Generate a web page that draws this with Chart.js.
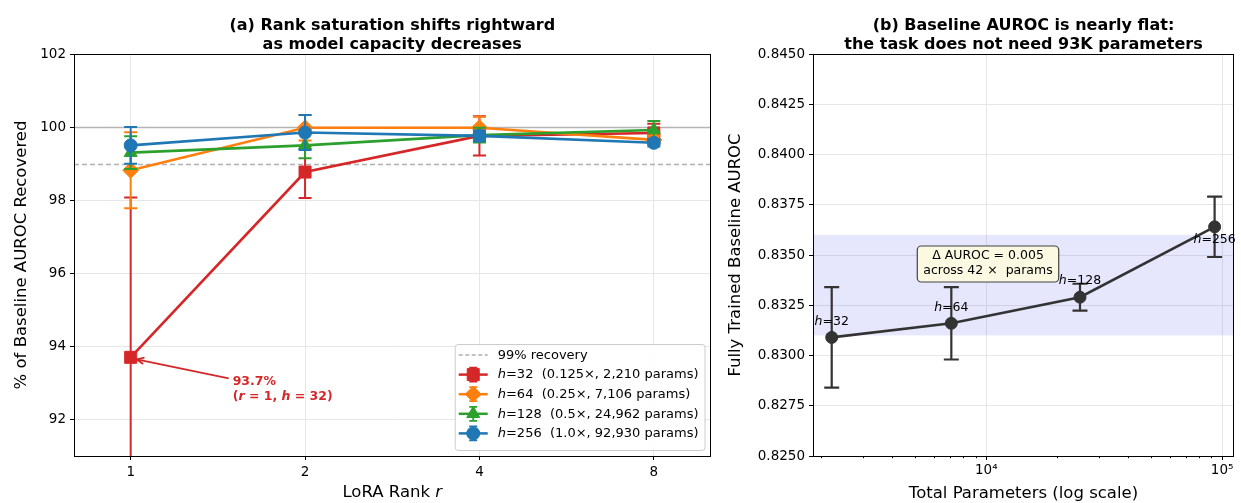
<!DOCTYPE html>
<html>
<head>
<meta charset="utf-8">
<script src="https://cdn.jsdelivr.net/npm/chart.js@4/dist/chart.umd.min.js"></script>
<style>
  html, body { margin: 0; padding: 0; background: #ffffff; }
  #wrap { position: relative; width: 1241px; height: 503px; overflow: hidden; }
  canvas { position: absolute; top: 0; }
  #rankChart { left: 0; width: 720px; height: 503px; }
  #paramChart { left: 720px; width: 521px; height: 503px; }
</style>
</head>
<body>
<div id="wrap">
  <canvas id="rankChart" width="720" height="503"></canvas>
  <canvas id="paramChart" width="521" height="503"></canvas>
</div>
<script>
// ---------- Panel (a): % of baseline AUROC recovered vs LoRA rank ----------
const ranks = [1, 2, 4, 8];
const rankLabels = ['1', '2', '4', '8'];
const recTicks = [92, 94, 96, 98, 100, 102];

const hiddenSizes = [32, 64, 128, 256];
const sizeNotes = ['(0.125×, 2,210 params)', '(0.25×, 7,106 params)', '(0.5×, 24,962 params)', '(1.0×, 92,930 params)'];

const rec32  = [93.7, 98.77, 99.76, 99.84];
const err32  = [4.37, 0.71, 0.54, 0.25];
const rec64  = [98.82, 99.98, 99.98, 99.65];
const err64  = [1.04, 0.35, 0.30, 0.12];
const rec128 = [99.30, 99.50, 99.78, 99.92];
const err128 = [0.45, 0.35, 0.20, 0.25];
const rec256 = [99.50, 99.85, 99.76, 99.57];
const err256 = [0.50, 0.48, 0.15, 0.10];

const fullRecovery = 100;
const recoveryThreshold = 99;

// ---------- Panel (b): fully trained baseline AUROC vs parameter count ----------
const paramCounts = [2210, 7106, 24962, 92930];
const baseAuroc   = [0.8309, 0.8316, 0.8329, 0.8364];
const baseErr     = [0.0025, 0.0018, 0.00067, 0.0015];
const bandLow  = 0.8310;
const bandHigh = 0.8360;
const aurocTicks = [0.8250, 0.8275, 0.8300, 0.8325, 0.8350, 0.8375, 0.8400, 0.8425, 0.8450];
const paramMajor = [1e4, 1e5];
const paramMajorLabels = ['10⁴', '10⁵'];

// ---------- shared styling ----------
const FAMILY = '"DejaVu Sans", "Liberation Sans", sans-serif';
const fnt = (size, weight = 'normal', style = 'normal') => `${style} ${weight} ${size}px ${FAMILY}`;
const GRID = '#e6e6e6';
const TICK_SIZE = 13.5;

// draw a run of text pieces, some of them italic
function drawRich(ctx, parts, x, y, align, size, weight) {
  const widths = parts.map(([t, it]) => { ctx.font = fnt(size, weight, it ? 'italic' : 'normal'); return ctx.measureText(t).width; });
  const total = widths.reduce((a, b) => a + b, 0);
  let cx = align === 'center' ? x - total / 2 : (align === 'right' ? x - total : x);
  ctx.textAlign = 'left';
  parts.forEach(([t, it], i) => {
    ctx.font = fnt(size, weight, it ? 'italic' : 'normal');
    ctx.fillText(t, cx, y);
    cx += widths[i];
  });
  return total;
}

// keep the plot area exactly where the layout puts it
function noEdgePadding(s) {
  s.paddingLeft = 0; s.paddingRight = 0; s.paddingTop = 0; s.paddingBottom = 0;
}

// error bars drawn just before each dataset's own line and markers
const errorBarPlugin = {
  id: 'errorBars',
  beforeDatasetDraw(chart, args) {
    const ds = chart.data.datasets[args.index];
    if (!ds.errors) return;
    const { ctx, chartArea: a } = chart;
    const xs = chart.scales.x, ys = chart.scales.y;
    ctx.save();
    ctx.beginPath();
    ctx.rect(a.left, a.top, a.right - a.left, a.bottom - a.top);
    ctx.clip();
    ctx.strokeStyle = ds.borderColor;
    ctx.lineWidth = ds.errLineWidth;
    ds.data.forEach((p, i) => {
      const px = xs.getPixelForValue(p.x);
      const top = ys.getPixelForValue(p.y + ds.errors[i]);
      const bot = ys.getPixelForValue(p.y - ds.errors[i]);
      const c = ds.capHalf;
      ctx.beginPath();
      ctx.moveTo(px, top); ctx.lineTo(px, bot);
      ctx.moveTo(px - c, top); ctx.lineTo(px + c, top);
      ctx.moveTo(px - c, bot); ctx.lineTo(px + c, bot);
      ctx.stroke();
    });
    ctx.restore();
  }
};

function drawSpines(ctx, a) {
  ctx.save();
  ctx.strokeStyle = '#000';
  ctx.lineWidth = 1;
  ctx.strokeRect(Math.round(a.left) + 0.5, Math.round(a.top) + 0.5, Math.round(a.right - a.left) - 1, Math.round(a.bottom - a.top));
  ctx.restore();
}

function drawTitle(ctx, lines, cx) {
  ctx.save();
  ctx.fillStyle = '#000';
  ctx.textAlign = 'center';
  ctx.textBaseline = 'alphabetic';
  ctx.font = fnt(16, 'bold');
  ctx.fillText(lines[0], cx, 30);
  ctx.fillText(lines[1], cx, 48.5);
  ctx.restore();
}

function drawYLabel(ctx, text, x, cy) {
  ctx.save();
  ctx.fillStyle = '#000';
  ctx.translate(x, cy);
  ctx.rotate(-Math.PI / 2);
  ctx.textAlign = 'center';
  ctx.textBaseline = 'middle';
  ctx.font = fnt(16.5);
  ctx.fillText(text, 0, 0);
  ctx.restore();
}

// ---------- chart (a) ----------
const rankPos = ranks.map(Math.log2);
const seriesA = [rec32, rec64, rec128, rec256];
const errorsA = [err32, err64, err128, err256];
const colorsA = ['#d62728', '#ff7f0e', '#2ca02c', '#1f77b4'];
const markersA = ['rect', 'rectRot', 'triangle', 'circle'];
const radiiA = [8.5, 8, 7.5, 6.5];

const panelAPlugin = {
  id: 'panelA',
  beforeDatasetsDraw(chart) {
    const { ctx, chartArea: a } = chart;
    const ys = chart.scales.y;
    ctx.save();
    const y100 = Math.round(ys.getPixelForValue(fullRecovery)) + 0.5;
    ctx.strokeStyle = '#b5b5b5';
    ctx.lineWidth = 1.3;
    ctx.beginPath(); ctx.moveTo(a.left, y100); ctx.lineTo(a.right, y100); ctx.stroke();
    const y99 = Math.round(ys.getPixelForValue(recoveryThreshold)) + 0.5;
    ctx.strokeStyle = '#b0b0b0';
    ctx.setLineDash([5, 3]);
    ctx.beginPath(); ctx.moveTo(a.left, y99); ctx.lineTo(a.right, y99); ctx.stroke();
    ctx.restore();
  },
  afterDraw(chart) {
    const { ctx, chartArea: a } = chart;
    const xs = chart.scales.x, ys = chart.scales.y;
    drawSpines(ctx, a);
    const cx = (a.left + a.right) / 2;
    drawTitle(ctx, ['(a) Rank saturation shifts rightward', 'as model capacity decreases'], cx);
    drawYLabel(ctx, '% of Baseline AUROC Recovered', 22, (a.top + a.bottom) / 2);
    ctx.save();
    ctx.fillStyle = '#000';
    drawRich(ctx, [['LoRA Rank ', false], ['r', true]], cx, 497, 'center', 16.5, 'normal');
    ctx.restore();

    // callout for the weakest configuration
    const px = xs.getPixelForValue(rankPos[0]);
    const py = ys.getPixelForValue(rec32[0]);
    const tipX = px + 6, tipY = py + 2;
    const tailX = px + 98, tailY = py + 21;
    ctx.save();
    ctx.strokeStyle = colorsA[0];
    ctx.lineWidth = 1.8;
    ctx.beginPath(); ctx.moveTo(tailX, tailY); ctx.lineTo(tipX, tipY); ctx.stroke();
    const ang = Math.atan2(tailY - tipY, tailX - tipX);
    ctx.beginPath();
    ctx.moveTo(tipX + 8 * Math.cos(ang + 0.42), tipY + 8 * Math.sin(ang + 0.42));
    ctx.lineTo(tipX, tipY);
    ctx.lineTo(tipX + 8 * Math.cos(ang - 0.42), tipY + 8 * Math.sin(ang - 0.42));
    ctx.stroke();
    ctx.fillStyle = colorsA[0];
    ctx.textBaseline = 'alphabetic';
    ctx.font = fnt(12.5, 'bold');
    ctx.textAlign = 'left';
    ctx.fillText(rec32[0].toFixed(1) + '%', tailX + 4, py + 28);
    drawRich(ctx, [['(', false], ['r', true], [' = ' + ranks[0] + ', ', false], ['h', true], [' = ' + hiddenSizes[0] + ')', false]],
      tailX + 4, py + 43, 'left', 12.5, 'bold');
    ctx.restore();

    // legend
    ctx.save();
    const fs = 13;
    const rowH = 19.6;
    const entries = [{ dashed: true, text: [['99% recovery', false]] }].concat(
      hiddenSizes.map((h, k) => ({ k, text: [['h', true], ['=' + h + '  ' + sizeNotes[k], false]] })));
    let maxW = 0;
    entries.forEach(e => {
      let w = 0;
      e.text.forEach(([t, it]) => { ctx.font = fnt(fs, 'normal', it ? 'italic' : 'normal'); w += ctx.measureText(t).width; });
      maxW = Math.max(maxW, w);
    });
    const boxW = 4 + 30 + 9 + maxW + 6;
    const boxH = entries.length * rowH + 8;
    const bx = a.right - 6 - boxW, by = a.bottom - 6 - boxH;
    ctx.fillStyle = 'rgba(255,255,255,0.85)';
    ctx.strokeStyle = '#cccccc';
    ctx.lineWidth = 1;
    ctx.beginPath(); ctx.roundRect(bx + 0.5, by + 0.5, boxW, boxH, 3); ctx.fill(); ctx.stroke();
    entries.forEach((e, i) => {
      const ry = by + 11 + i * rowH;
      const hx0 = bx + 4, hx1 = bx + 33, hmx = (hx0 + hx1) / 2;
      if (e.dashed) {
        ctx.strokeStyle = '#b0b0b0'; ctx.lineWidth = 1.3; ctx.setLineDash([4, 2.5]);
        ctx.beginPath(); ctx.moveTo(hx0, ry); ctx.lineTo(hx1, ry); ctx.stroke();
        ctx.setLineDash([]);
      } else {
        const col = colorsA[e.k];
        ctx.strokeStyle = col; ctx.lineWidth = 2.5;
        ctx.beginPath(); ctx.moveTo(hx0, ry); ctx.lineTo(hx1, ry); ctx.stroke();
        ctx.lineWidth = 1.8;
        ctx.beginPath();
        ctx.moveTo(hmx, ry - 7); ctx.lineTo(hmx, ry + 7);
        ctx.moveTo(hmx - 4, ry - 7); ctx.lineTo(hmx + 4, ry - 7);
        ctx.moveTo(hmx - 4, ry + 7); ctx.lineTo(hmx + 4, ry + 7);
        ctx.stroke();
        ctx.fillStyle = col; ctx.strokeStyle = col; ctx.lineWidth = 1;
        Chart.helpers.drawPoint(ctx, { pointStyle: markersA[e.k], rotation: 0, borderWidth: 1, radius: radiiA[e.k] }, hmx, ry);
      }
      ctx.fillStyle = '#000';
      ctx.textBaseline = 'middle';
      drawRich(ctx, e.text, bx + 43, ry + 0.5, 'left', fs, 'normal');
    });
    ctx.restore();
  }
};

new Chart(document.getElementById('rankChart'), {
  type: 'line',
  data: {
    datasets: seriesA.map((vals, k) => ({
      label: 'h=' + hiddenSizes[k],
      data: vals.map((v, i) => ({ x: rankPos[i], y: v })),
      errors: errorsA[k],
      errLineWidth: 2,
      capHalf: 6.5,
      borderColor: colorsA[k],
      backgroundColor: colorsA[k],
      borderWidth: 2.6,
      pointStyle: markersA[k],
      pointRadius: radiiA[k],
      pointBorderWidth: 1,
      pointBackgroundColor: colorsA[k],
      pointBorderColor: colorsA[k],
      tension: 0,
      order: 4 - k
    }))
  },
  options: {
    responsive: false,
    maintainAspectRatio: false,
    animation: false,
    devicePixelRatio: 1,
    events: [],
    layout: { padding: { top: 54, right: 7, left: 0, bottom: 0 } },
    plugins: { legend: { display: false }, title: { display: false }, tooltip: { enabled: false } },
    scales: {
      x: {
        type: 'linear', min: -0.325, max: 3.325,
        afterBuildTicks: s => { s.ticks = rankPos.map(v => ({ value: v })); },
        afterFit: s => { s.height = 47; noEdgePadding(s); },
        ticks: { autoSkip: false, maxRotation: 0, padding: 4, color: '#000', font: { family: FAMILY, size: TICK_SIZE },
          callback: v => rankLabels[rankPos.indexOf(v)] },
        grid: { color: GRID, lineWidth: 1, tickLength: 4, tickColor: '#000', tickWidth: 1 },
        border: { display: false }
      },
      y: {
        type: 'linear', min: 91, max: 102,
        afterBuildTicks: s => { s.ticks = recTicks.map(v => ({ value: v })); },
        afterFit: s => { s.width = 74; noEdgePadding(s); },
        ticks: { padding: 4, color: '#000', font: { family: FAMILY, size: TICK_SIZE }, callback: v => String(v) },
        grid: { color: GRID, lineWidth: 1, tickLength: 4, tickColor: '#000', tickWidth: 1 },
        border: { display: false }
      }
    }
  },
  plugins: [errorBarPlugin, panelAPlugin]
});

// ---------- chart (b) ----------
const paramMinor = [];
for (let d = 1e3; d <= 1e4; d *= 10) {
  for (let m = 2; m <= 9; m++) paramMinor.push(m * d);
}
const paramTickValues = paramMajor.concat(paramMinor).sort((a, b) => a - b);
const labelOffsets = [-16, -16, -16, 13];

const panelBPlugin = {
  id: 'panelB',
  beforeDatasetsDraw(chart) {
    const { ctx, chartArea: a } = chart;
    const ys = chart.scales.y;
    const yTop = ys.getPixelForValue(bandHigh), yBot = ys.getPixelForValue(bandLow);
    ctx.save();
    ctx.fillStyle = 'rgba(60,60,235,0.13)';
    ctx.fillRect(a.left, yTop, a.right - a.left, yBot - yTop);
    ctx.restore();
  },
  afterDatasetsDraw(chart) {
    const { ctx } = chart;
    const xs = chart.scales.x, ys = chart.scales.y;
    ctx.save();
    ctx.fillStyle = '#000';
    ctx.textBaseline = 'middle';
    paramCounts.forEach((p, i) => {
      const px = xs.getPixelForValue(p), py = ys.getPixelForValue(baseAuroc[i]);
      drawRich(ctx, [['h', true], ['=' + hiddenSizes[i], false]], px, py + labelOffsets[i], 'center', 12.5, 'normal');
    });
    ctx.restore();
  },
  afterDraw(chart) {
    const { ctx, chartArea: a } = chart;
    const xs = chart.scales.x;
    drawSpines(ctx, a);
    // log-axis tick marks
    ctx.save();
    ctx.strokeStyle = '#000';
    ctx.lineWidth = 1;
    paramTickValues.forEach(v => {
      if (v < xs.min || v > xs.max) return;
      const px = Math.round(xs.getPixelForValue(v)) + 0.5;
      const len = paramMajor.includes(v) ? 4 : 2.2;
      ctx.beginPath(); ctx.moveTo(px, a.bottom); ctx.lineTo(px, a.bottom + len); ctx.stroke();
    });
    ctx.restore();

    const cx = (a.left + a.right) / 2;
    drawTitle(ctx, ['(b) Baseline AUROC is nearly flat:', 'the task does not need 93K parameters'], cx);
    drawYLabel(ctx, 'Fully Trained Baseline AUROC', 16, (a.top + a.bottom) / 2);
    ctx.save();
    ctx.fillStyle = '#000';
    ctx.textAlign = 'center';
    ctx.textBaseline = 'alphabetic';
    ctx.font = fnt(16.5);
    ctx.fillText('Total Parameters (log scale)', cx, 498);
    ctx.restore();

    // summary box
    ctx.save();
    const lines = ['Δ AUROC = 0.005', 'across 42 ×  params'];
    ctx.font = fnt(12.5);
    const w = Math.max(...lines.map(t => ctx.measureText(t).width)) + 12;
    const bcx = 988 - 720, bcy = 264;
    ctx.fillStyle = '#fbf9e2';
    ctx.strokeStyle = '#444444';
    ctx.lineWidth = 1.2;
    ctx.beginPath(); ctx.roundRect(bcx - w / 2, bcy - 18, w, 36, 4); ctx.fill(); ctx.stroke();
    ctx.fillStyle = '#000';
    ctx.textAlign = 'center';
    ctx.textBaseline = 'middle';
    ctx.fillText(lines[0], bcx, bcy - 8);
    ctx.fillText(lines[1], bcx, bcy + 7);
    ctx.restore();
  }
};

new Chart(document.getElementById('paramChart'), {
  type: 'line',
  data: {
    datasets: [{
      label: 'baseline',
      data: paramCounts.map((p, i) => ({ x: p, y: baseAuroc[i] })),
      errors: baseErr,
      errLineWidth: 2.2,
      capHalf: 7.5,
      borderColor: '#333333',
      backgroundColor: '#333333',
      borderWidth: 2.6,
      pointStyle: 'circle',
      pointRadius: 6,
      pointBorderWidth: 1,
      pointBackgroundColor: '#333333',
      pointBorderColor: '#333333',
      tension: 0
    }]
  },
  options: {
    responsive: false,
    maintainAspectRatio: false,
    animation: false,
    devicePixelRatio: 1,
    events: [],
    layout: { padding: { top: 54, right: 3, left: 0, bottom: 0 } },
    plugins: { legend: { display: false }, title: { display: false }, tooltip: { enabled: false } },
    scales: {
      x: {
        type: 'logarithmic', min: 1841, max: 112300,
        afterBuildTicks: s => { s.ticks = paramTickValues.map(v => ({ value: v, major: paramMajor.includes(v) })); },
        afterFit: s => { s.height = 47; noEdgePadding(s); },
        ticks: { autoSkip: false, maxRotation: 0, padding: 6, color: '#000', font: { family: FAMILY, size: TICK_SIZE },
          callback: v => { const i = paramMajor.indexOf(v); return i >= 0 ? paramMajorLabels[i] : ''; } },
        grid: { drawTicks: false, lineWidth: 1,
          color: c => (c.tick && paramMajor.includes(c.tick.value)) ? GRID : 'rgba(0,0,0,0)' },
        border: { display: false }
      },
      y: {
        type: 'linear', min: 0.825, max: 0.845,
        afterBuildTicks: s => { s.ticks = aurocTicks.map(v => ({ value: v })); },
        afterFit: s => { s.width = 93; noEdgePadding(s); },
        ticks: { padding: 4, color: '#000', font: { family: FAMILY, size: TICK_SIZE }, callback: v => v.toFixed(4) },
        grid: { color: GRID, lineWidth: 1, tickLength: 4, tickColor: '#000', tickWidth: 1 },
        border: { display: false }
      }
    }
  },
  plugins: [errorBarPlugin, panelBPlugin]
});
</script>
</body>
</html>
